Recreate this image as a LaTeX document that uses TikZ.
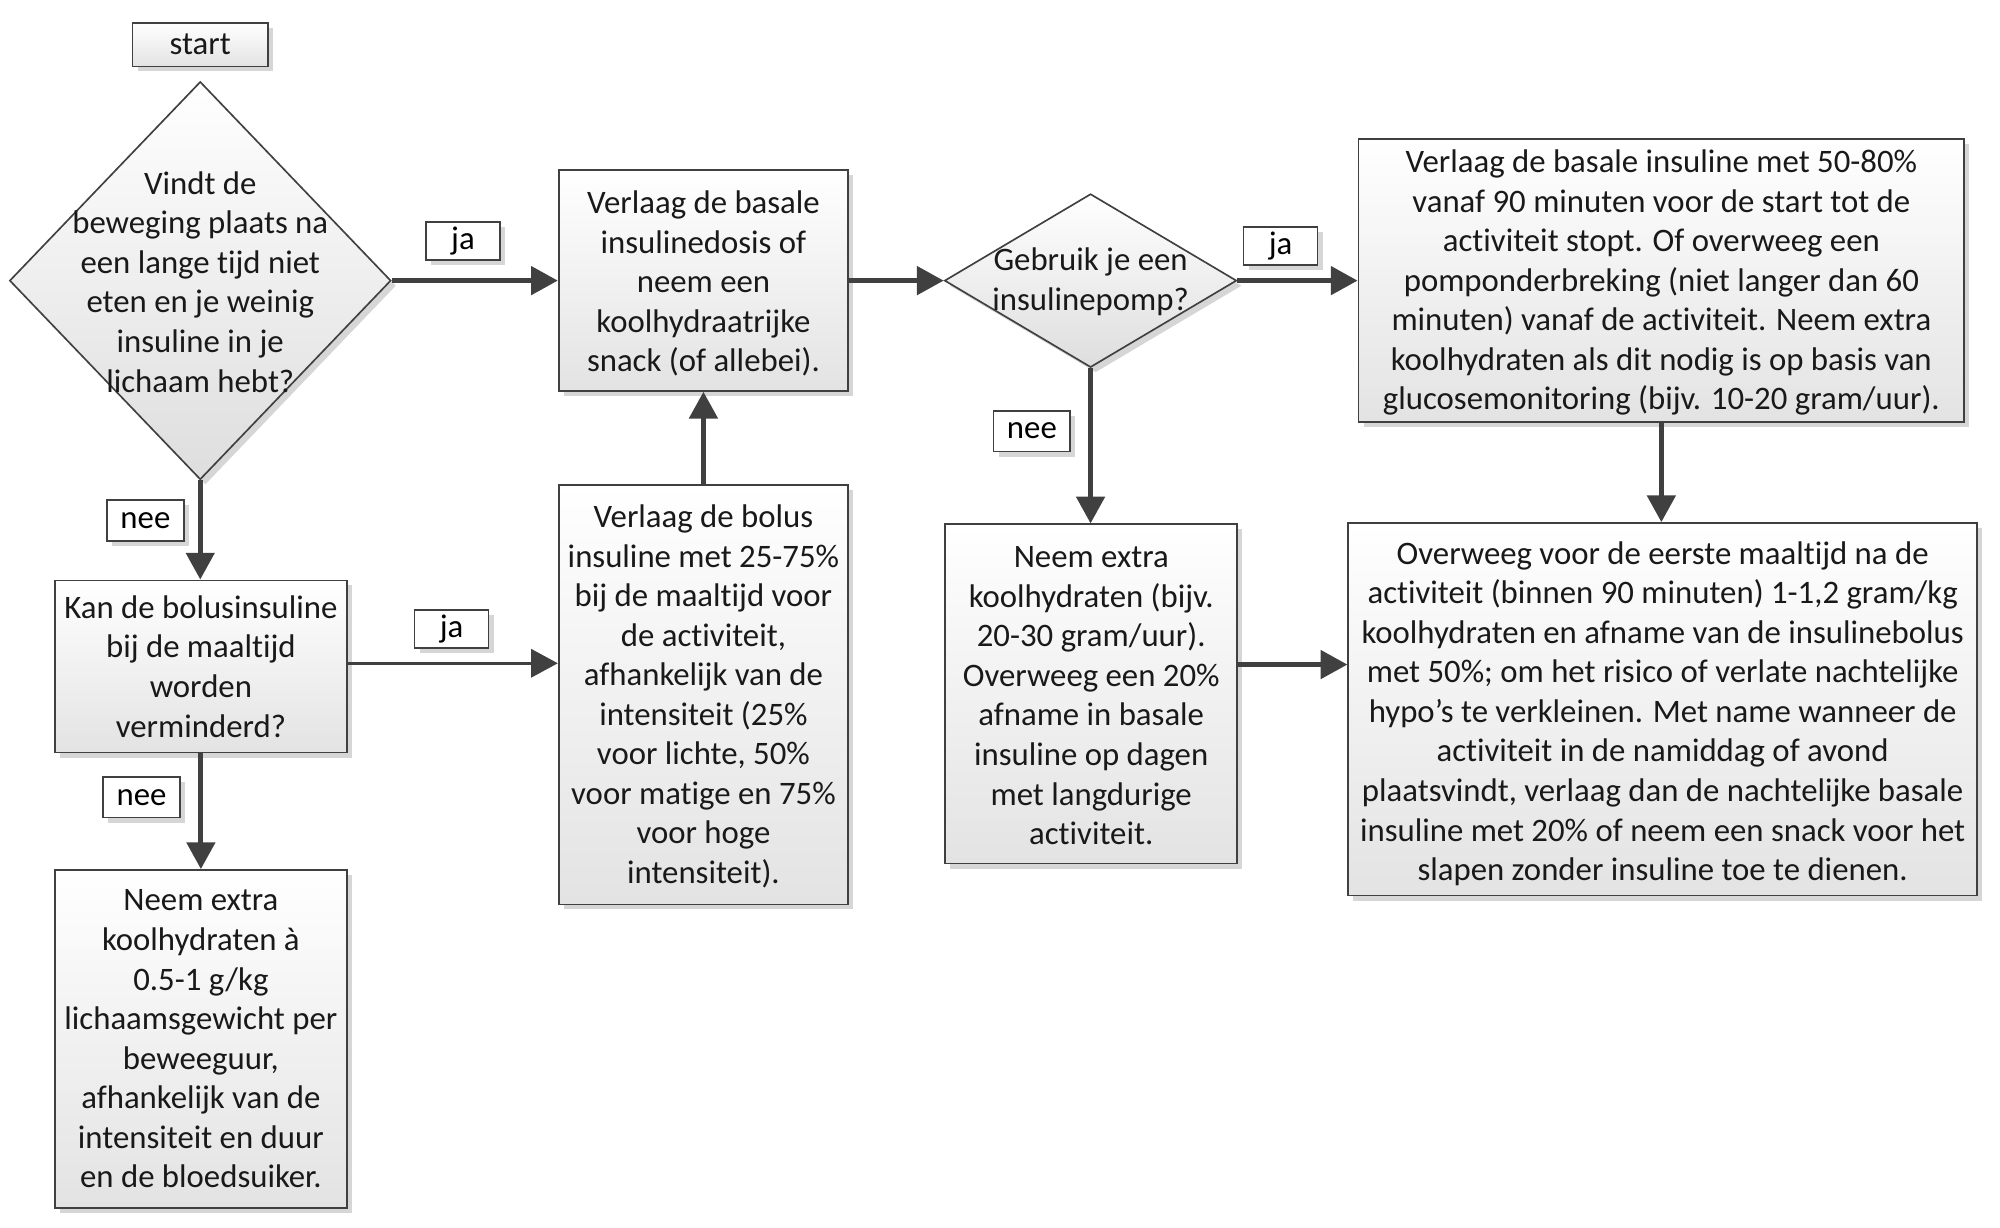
\documentclass[tikz,border=0pt]{standalone}
\usepackage{fontspec}
\setmainfont{Carlito}[Ligatures={NoCommon,NoContextual,NoRare},Contextuals=NoAlternate]
\usetikzlibrary{shapes.geometric,arrows.meta,shadows}
\definecolor{lc}{RGB}{64,64,64}
\newcommand\myfnt{\fontsize{25.7pt}{31pt}\selectfont}
\tikzset{
  shad/.style={drop shadow={shadow xshift=4pt,shadow yshift=-4pt,fill=black!16,opacity=1}},
  box/.style={draw=lc,line width=1.3pt,top color=white,bottom color=black!11,shad,inner sep=0pt},
  dia/.style={diamond,draw=lc,line width=1.3pt,top color=white,bottom color=black!13,shad,inner sep=0pt},
  lab/.style={draw=lc,line width=1.3pt,fill=white,shad,inner sep=0pt,font=\myfnt,
    minimum width=58pt,minimum height=30pt},
  arr/.style={draw=lc,line width=3.8pt,-{Triangle[length=21pt,width=22pt]}},
  arrthin/.style={draw=lc,line width=2.6pt,-{Triangle[length=21pt,width=22pt]}},
  dtext/.style={align=center,font=\myfnt,text=black!90,inner sep=0pt}
}
\begin{document}
\begin{tikzpicture}[x=1pt,y=-1pt]
\useasboundingbox (0,0) rectangle (1568,962);
% nodes
\node[box,minimum width=106pt,minimum height=34pt] (start) at (157,35) {};
\node[dtext] (startt) at (start) {start};
\node[dia,minimum width=299pt,minimum height=312pt] (d1) at (157,220) {};
\node[dtext] (d1t) at (157,221) {Vindt de\\beweging plaats na\\een lange tijd niet\\eten en je weinig\\insuline in je\\lichaam hebt?};
\node[box,minimum width=227pt,minimum height=173pt] (b2) at (551.5,220) {};
\node[dtext] (b2t) at ([yshift=-2.5pt]b2.center)
  {Verlaag de basale\\insulinedosis of\\neem een\\koolhydraatrijke\\snack (of allebei).};
\node[dia,minimum width=229pt,minimum height=136pt] (d2) at (855,220) {};
\node[dtext] (d2t) at (855,221) {Gebruik je een\\insulinepomp?};
\node[box,minimum width=475pt,minimum height=222pt] (tr) at (1302.5,220) {};
\node[dtext] (trt) at ([yshift=-1.5pt]tr.center)
  {Verlaag de basale insuline met 50-80\%\\vanaf 90 minuten voor de start tot de\\activiteit stopt. Of overweeg een\\pomponderbreking (niet langer dan 60\\minuten) vanaf de activiteit. Neem extra\\koolhydraten als dit nodig is op basis van\\glucosemonitoring (bijv. 10-20 gram/uur).};
\node[box,minimum width=493pt,minimum height=292pt] (br) at (1303.5,556) {};
\node[dtext] (brt) at ([yshift=-3.5pt]br.center)
  {Overweeg voor de eerste maaltijd na de\\activiteit (binnen 90 minuten) 1-1,2 gram/kg\\koolhydraten en afname van de insulinebolus\\met 50\%; om het risico of verlate nachtelijke\\hypo’s te verkleinen. Met name wanneer de\\activiteit in de namiddag of avond\\plaatsvindt, verlaag dan de nachtelijke basale\\insuline met 20\% of neem een snack voor het\\slapen zonder insuline toe te dienen.};
\node[box,minimum width=229pt,minimum height=266pt] (mid) at (855.5,544) {};
\node[dtext] (midt) at ([yshift=-1.5pt]mid.center)
  {Neem extra\\koolhydraten (bijv.\\20-30 gram/uur).\\Overweeg een 20\%\\afname in basale\\insuline op dagen\\met langdurige\\activiteit.};
\node[box,minimum width=227pt,minimum height=329pt] (bol) at (551.5,544.5) {};
\node[dtext] (bolt) at ([yshift=-1.5pt]bol.center)
  {Verlaag de bolus\\insuline met 25-75\%\\bij de maaltijd voor\\de activiteit,\\afhankelijk van de\\intensiteit (25\%\\voor lichte, 50\%\\voor matige en 75\%\\voor hoge\\intensiteit).};
\node[box,minimum width=229pt,minimum height=135pt] (kan) at (157.5,522.5) {};
\node[dtext] (kant) at (kan.center)
  {Kan de bolusinsuline\\bij de maaltijd\\worden\\verminderd?};
\node[box,minimum width=229pt,minimum height=265pt] (neem) at (157.5,814.5) {};
\node[dtext] (neemt) at (neem.center)
  {Neem extra\\koolhydraten à\\0.5-1 g/kg\\lichaamsgewicht per\\beweeguur,\\afhankelijk van de\\intensiteit en duur\\en de bloedsuiker.};
% connectors
\draw[arr] (d1.east) -- (b2.west |- d1.east);
\draw[arr] (b2.east) -- (d2.west |- b2.east);
\draw[arr] (d2.east) -- (tr.west |- d2.east);
\draw[arr] (tr.south) -- (br.north -| tr.south);
\draw[arr] (d2.south) -- (mid.north -| d2.south);
\coordinate (midout) at (970,521);
\draw[arr] (mid.east |- midout) -- (br.west |- midout);
\draw[arr] (bol.north) -- (b2.south);
\draw[arr] (d1.south) -- (kan.north -| d1.south);
\coordinate (kanout) at (272,520);
\draw[arrthin] (kan.east |- kanout) -- (bol.west |- kanout);
\draw[arr] (kan.south) -- (neem.north);
% labels
\node[lab] (ja1) at (363,189) {ja};
\node[lab] (ja2) at (1004,193) {ja};
\node[lab] (ja3) at (354,493) {ja};
\node[lab,minimum width=60pt,minimum height=32pt] (nee1) at (114,408) {nee};
\node[lab,minimum width=60pt,minimum height=32pt] (nee2) at (111,625) {nee};
\node[lab,minimum width=60pt,minimum height=32pt] (nee3) at (809,338) {nee};
\end{tikzpicture}
\end{document}
